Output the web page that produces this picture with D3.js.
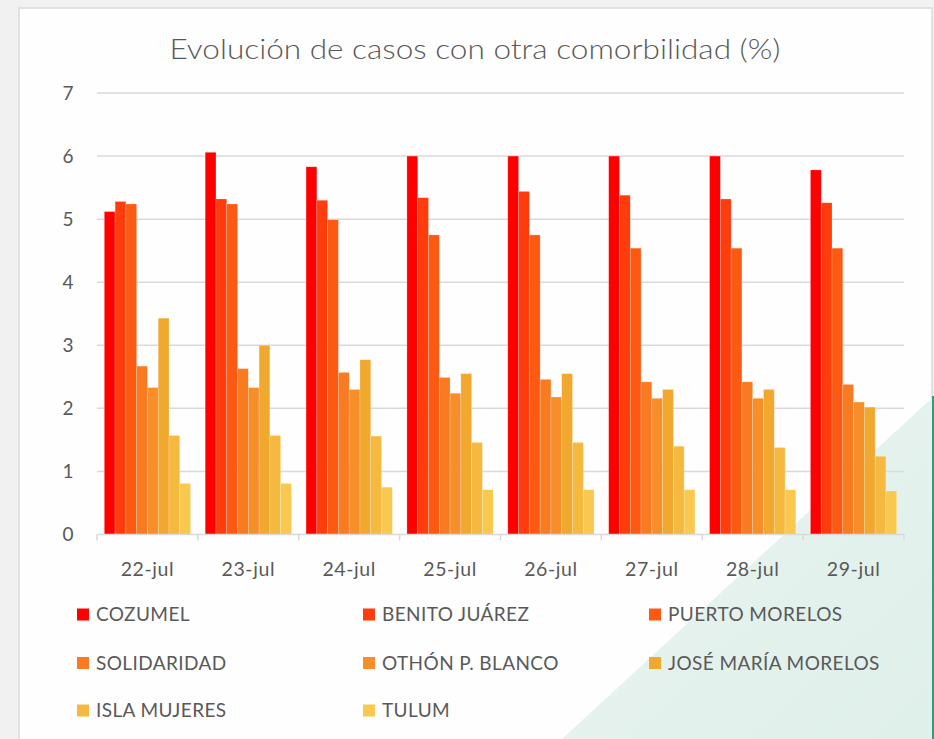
<!DOCTYPE html>
<html><head><meta charset="utf-8">
<script src="https://cdn.jsdelivr.net/npm/d3@7"></script>
<style>
html,body{margin:0;padding:0;background:#f1f1f1;}
svg{display:block;}
</style></head>
<body>
<svg id="c" width="934" height="739"></svg>
<script>
const categories = ["22-jul","23-jul","24-jul","25-jul","26-jul","27-jul","28-jul","29-jul"];
const seriesNames = ["COZUMEL","BENITO JUÁREZ","PUERTO MORELOS","SOLIDARIDAD","OTHÓN P. BLANCO","JOSÉ MARÍA MORELOS","ISLA MUJERES","TULUM"];
const seriesColors = ["#ff0000","#ff3c0b","#fc5913","#f87a21","#f68e2a","#f0a82f","#f6b940","#f9c84f"];
const cozumel        = [5.12,6.06,5.83,6.00,6.00,6.00,6.00,5.78];
const benitoJuarez   = [5.28,5.32,5.30,5.34,5.44,5.38,5.32,5.26];
const puertoMorelos  = [5.24,5.24,4.99,4.75,4.75,4.54,4.54,4.54];
const solidaridad    = [2.67,2.63,2.57,2.49,2.46,2.42,2.42,2.38];
const othonPBlanco   = [2.33,2.33,2.30,2.24,2.18,2.16,2.16,2.10];
const joseMariaMorelos=[3.43,3.00,2.77,2.55,2.55,2.30,2.30,2.02];
const islaMujeres    = [1.57,1.57,1.56,1.46,1.46,1.40,1.38,1.24];
const tulum          = [0.81,0.81,0.75,0.71,0.71,0.71,0.71,0.69];
const yTicks = [0,1,2,3,4,5,6,7];
const title = "Evolución de casos con otra comorbilidad (%)";

const seriesValues = [cozumel,benitoJuarez,puertoMorelos,solidaridad,othonPBlanco,joseMariaMorelos,islaMujeres,tulum];

const svg = d3.select("#c");
const FONT = "Lato, 'Open Sans', sans-serif";
const TXT = "#595959";

// background / frame
const defs = svg.append("defs");
const g1 = defs.append("linearGradient").attr("id","mint").attr("x1","0").attr("y1","0").attr("x2","1").attr("y2","1");
g1.append("stop").attr("offset","0").attr("stop-color","#eaf5f1");
g1.append("stop").attr("offset","1").attr("stop-color","#dfefe9");
svg.append("rect").attr("x",0).attr("y",0).attr("width",934).attr("height",739).attr("fill","#f1f1f1");
svg.append("rect").attr("x",19).attr("y",8).attr("width",913).attr("height",740)
  .attr("fill","#fefefe").attr("stroke","#dadada").attr("stroke-width",1.5);
svg.append("path").attr("d","M932,398 L562,739 L932,739 Z").attr("fill","url(#mint)");
svg.append("rect").attr("x",932).attr("y",396).attr("width",2).attr("height",343).attr("fill","#2a9d7c");

const x0 = d3.scaleBand().domain(categories).range([97,904]).paddingInner(0.145).paddingOuter(0.0725);
const x1 = d3.scaleBand().domain(seriesNames).range([0,x0.bandwidth()]);
const y = d3.scaleLinear().domain([0,7]).range([534.5,93]);

// gridlines
svg.append("g").selectAll("line").data(yTicks.filter(d=>d>0)).join("line")
  .attr("x1",97).attr("x2",904).attr("y1",d=>y(d)).attr("y2",d=>y(d))
  .attr("stroke","#d9d9d9").attr("stroke-width",1.5);

// y labels
svg.append("g").selectAll("text").data(yTicks).join("text")
  .attr("x",68).attr("y",d=>y(d)).attr("dy","0.36em").attr("text-anchor","middle")
  .attr("font-family",FONT).attr("font-size",19).attr("fill",TXT).text(d=>d);

// bars
const groups = svg.append("g").selectAll("g").data(categories).join("g")
  .attr("transform",d=>`translate(${x0(d)},0)`);
groups.selectAll("rect").data((c,ci)=>seriesNames.map((s,si)=>({s,si,v:seriesValues[si][ci]}))).join("rect")
  .attr("x",d=>x1(d.s)).attr("width",x1.bandwidth())
  .attr("y",d=>y(d.v)).attr("height",d=>y(0)-y(d.v))
  .attr("fill",d=>seriesColors[d.si])
  .attr("stroke","rgba(255,255,255,0.35)").attr("stroke-width",0.6);

// x axis
const xa = svg.append("g").attr("transform",`translate(0,${y(0)})`);
xa.append("line").attr("x1",97).attr("x2",904).attr("y1",0).attr("y2",0).attr("stroke","#d9d9d9").attr("stroke-width",1.5);
const bounds = categories.map(c=>x0(c)-x0.step()*x0.paddingInner()/2).concat([904]);
xa.selectAll("line.tk").data(bounds).join("line").attr("class","tk")
  .attr("x1",d=>d).attr("x2",d=>d).attr("y1",0).attr("y2",6).attr("stroke","#d9d9d9").attr("stroke-width",1.5);
xa.selectAll("text").data(categories).join("text")
  .attr("x",d=>x0(d)+x0.bandwidth()/2).attr("y",41).attr("text-anchor","middle")
  .attr("font-family",FONT).attr("font-size",19.5).attr("letter-spacing",0.6).attr("fill",TXT).text(d=>d);

// title
svg.append("text").attr("x",475).attr("y",59).attr("text-anchor","middle")
  .attr("font-family",FONT).attr("font-weight",300).attr("font-size",27).attr("fill",TXT)
  .attr("textLength",611).attr("lengthAdjust","spacingAndGlyphs").text(title);

// legend
const colX = [77,363,649];
const rowY = [614.5,663,710.5];
const leg = svg.append("g").selectAll("g").data(seriesNames).join("g")
  .attr("transform",(d,i)=>`translate(${colX[i%3]},${rowY[Math.floor(i/3)]})`);
leg.append("rect").attr("x",0).attr("y",-6).attr("width",12).attr("height",12).attr("fill",(d,i)=>seriesColors[i]);
leg.append("text").attr("x",19).attr("y",0).attr("dy","0.36em")
  .attr("font-family",FONT).attr("font-size",19).attr("letter-spacing",0.4).attr("fill",TXT).text(d=>d);
</script>
</body></html>
